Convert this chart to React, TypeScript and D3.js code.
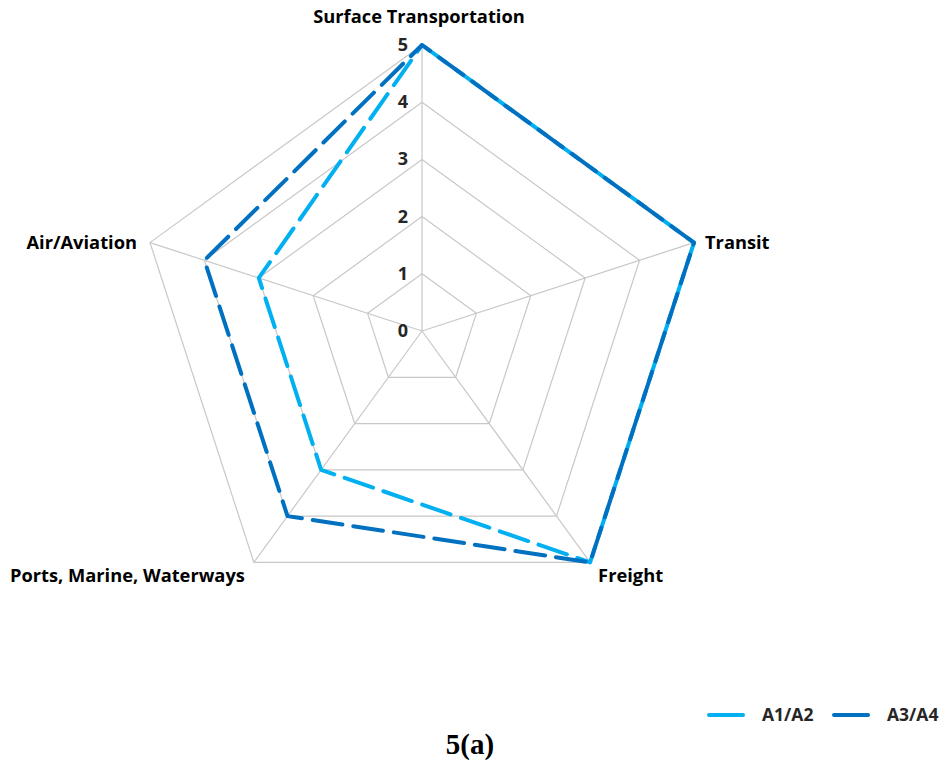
import React, { useEffect, useRef } from 'react';
import * as d3 from 'd3';

const axes = ['Surface Transportation', 'Transit', 'Freight', 'Ports, Marine, Waterways', 'Air/Aviation'];
const seriesA12 = [5, 5, 5, 3, 3];
const seriesA34 = [5, 5, 5, 4, 4];
const seriesNames = ['A1/A2', 'A3/A4'];
const seriesColors = ['#00B0F0', '#0070C0'];
const ticks = [0, 1, 2, 3, 4, 5];

const cx = 422;
const cy = 331;
const R = 286;
const font = '"Open Sans", sans-serif';

function App() {
    const ref = useRef<SVGSVGElement>(null);

    useEffect(() => {
        const svg = d3.select(ref.current);
        svg.selectAll('*').remove();

        const r = d3.scaleLinear().domain([0, 5]).range([0, R]);
        const angle = (i: number) => (i * 2 * Math.PI) / axes.length;
        const pt = (i: number, v: number): [number, number] => [
            cx + r(v) * Math.sin(angle(i)),
            cy - r(v) * Math.cos(angle(i)),
        ];

        const g = svg.append('g');

        // grid rings
        ticks.slice(1).forEach(t => {
            g.append('polygon')
                .attr('points', axes.map((_, i) => pt(i, t).join(',')).join(' '))
                .attr('fill', 'none')
                .attr('stroke', '#C8C8C8')
                .attr('stroke-width', 1.2);
        });
        // spokes
        axes.forEach((_, i) => {
            const [x, y] = pt(i, 5);
            g.append('line')
                .attr('x1', cx).attr('y1', cy)
                .attr('x2', x).attr('y2', y)
                .attr('stroke', '#C8C8C8')
                .attr('stroke-width', 1.2);
        });

        // tick labels
        ticks.forEach(t => {
            g.append('text')
                .attr('x', cx - 14)
                .attr('y', cy - r(t) + 6)
                .attr('text-anchor', 'end')
                .attr('font-family', font)
                .attr('font-weight', 'bold')
                .attr('font-size', 18)
                .attr('fill', '#262626')
                .text(t);
        });

        // series
        const line = d3.line<[number, number]>().curve(d3.curveLinearClosed);
        [seriesA12, seriesA34].forEach((s, k) => {
            g.append('path')
                .attr('d', line(s.map((v, i) => pt(i, v))))
                .attr('fill', 'none')
                .attr('stroke', seriesColors[k])
                .attr('stroke-width', 4)
                .attr('stroke-dasharray', '30,11')
                .attr('stroke-dashoffset', k === 1 ? 20 : 0)
                .attr('stroke-linejoin', 'round')
                .attr('stroke-linecap', 'round');
        });

        // axis labels
        const labelPos: { dx: number; dy: number; anchor: string }[] = [
            { dx: -3, dy: -22, anchor: 'middle' },
            { dx: 11, dy: 6, anchor: 'start' },
            { dx: 8, dy: 20, anchor: 'start' },
            { dx: -9, dy: 20, anchor: 'end' },
            { dx: -13, dy: 6, anchor: 'end' },
        ];
        axes.forEach((a, i) => {
            const [x, y] = pt(i, 5);
            g.append('text')
                .attr('x', x + labelPos[i].dx)
                .attr('y', y + labelPos[i].dy)
                .attr('text-anchor', labelPos[i].anchor)
                .attr('font-family', font)
                .attr('font-weight', 'bold')
                .attr('font-size', 18.3)
                .attr('fill', '#000')
                .text(a);
        });

        // legend
        const legX = [709, 834];
        seriesNames.forEach((n, k) => {
            g.append('line')
                .attr('x1', legX[k]).attr('x2', legX[k] + 34)
                .attr('y1', 715).attr('y2', 715)
                .attr('stroke', seriesColors[k])
                .attr('stroke-width', 4)
                .attr('stroke-linecap', 'round');
            g.append('text')
                .attr('x', legX[k] + 53)
                .attr('y', 721)
                .attr('font-family', font)
                .attr('font-weight', 'bold')
                .attr('font-size', 17.5)
                .attr('fill', '#262626')
                .text(n);
        });

        // caption
        g.append('text')
            .attr('x', 470)
            .attr('y', 754)
            .attr('text-anchor', 'middle')
            .attr('font-family', '"Liberation Serif", serif')
            .attr('font-weight', 'bold')
            .attr('font-size', 29)
            .attr('fill', '#000')
            .text('5(a)');
    }, []);

    return (
        <svg
            ref={ref}
            width={946}
            height={765}
            style={{ position: 'absolute', left: 0, top: 0, background: '#fff' }}
        />
    );
}

export default App;
